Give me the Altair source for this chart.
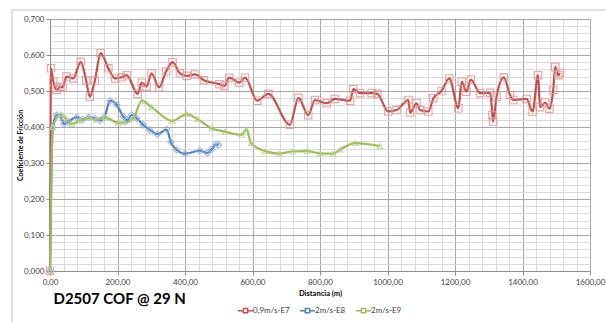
import altair as alt
import pandas as pd

# Sliding distance (m) and coefficient of friction for each test run
red_x = [0, 3, 10, 20, 30, 37, 49, 69, 91, 107, 118, 133, 150, 173, 193, 212, 227, 260, 272, 286,
         301, 323, 344, 363, 385, 405, 430, 456, 502, 517, 531, 561, 578, 614, 647, 711, 736, 765,
         785, 820, 844, 889, 899, 919, 953, 970, 1002, 1027, 1062, 1067, 1086, 1096, 1121, 1136,
         1160, 1183, 1210, 1220, 1234, 1247, 1274, 1304, 1311, 1313, 1323, 1345, 1363, 1373, 1412,
         1430, 1446, 1452, 1467, 1480, 1491, 1497, 1506, 1511]
red_y = [0.0, 0.563, 0.526, 0.503, 0.512, 0.51, 0.54, 0.535, 0.581, 0.53, 0.484, 0.529, 0.605, 0.563,
         0.535, 0.538, 0.544, 0.492, 0.523, 0.512, 0.549, 0.51, 0.554, 0.58, 0.549, 0.542, 0.546,
         0.53, 0.519, 0.514, 0.537, 0.523, 0.537, 0.473, 0.492, 0.406, 0.481, 0.433, 0.475, 0.466,
         0.478, 0.473, 0.505, 0.494, 0.494, 0.492, 0.443, 0.447, 0.475, 0.44, 0.466, 0.447, 0.443,
         0.48, 0.5, 0.535, 0.452, 0.526, 0.498, 0.532, 0.494, 0.495, 0.433, 0.415, 0.484, 0.538,
         0.489, 0.475, 0.478, 0.443, 0.544, 0.455, 0.468, 0.451, 0.503, 0.567, 0.544, 0.55]

blue_x = [0, 8, 20, 32, 41, 54, 79, 97, 114, 133, 148, 161, 178, 198, 217, 229, 242, 257, 276, 296,
          318, 346, 358, 375, 400, 444, 466, 479, 492, 500]
blue_y = [0.0, 0.40, 0.433, 0.429, 0.408, 0.415, 0.427, 0.421, 0.427, 0.424, 0.418, 0.427, 0.473,
          0.461, 0.429, 0.419, 0.433, 0.424, 0.406, 0.392, 0.38, 0.393, 0.358, 0.337, 0.326, 0.334,
          0.328, 0.338, 0.352, 0.35]

green_x = [0, 8, 32, 44, 64, 89, 114, 138, 163, 202, 217, 247, 272, 301, 363, 405, 437, 479, 519,
           568, 582, 596, 637, 679, 718, 761, 800, 839, 859, 904, 978]
green_y = [0.0, 0.40, 0.436, 0.427, 0.408, 0.418, 0.426, 0.421, 0.427, 0.412, 0.412, 0.424, 0.473,
           0.455, 0.417, 0.436, 0.422, 0.396, 0.387, 0.378, 0.393, 0.355, 0.333, 0.326, 0.332,
           0.333, 0.327, 0.326, 0.337, 0.355, 0.347]

series_names = ["0,9m/s-E7", "2m/s-E8", "2m/s-E9"]
line_colors = ["#C0504D", "#4F81BD", "#9BBB59"]
marker_colors = ["#E39594", "#8FB0DA", "#B9D38A"]

rows = []
for name, xs, ys in zip(series_names, [red_x, blue_x, green_x], [red_y, blue_y, green_y]):
    for i, (xv, yv) in enumerate(zip(xs, ys)):
        rows.append({"serie": name, "dist": xv, "cof": yv, "orden": i})
df = pd.DataFrame(rows)

FONT = "Lato"
TITLE_FONT = "Liberation Sans Narrow, Lato"
x_ticks = list(range(0, 1601, 40))
y_ticks = [round(i * 0.02, 2) for i in range(36)]
x_major = "datum.value % 200 == 0"
y_major = "round(datum.value * 100) % 10 == 0"

x_enc = alt.X(
    "dist:Q",
    scale=alt.Scale(domain=[0, 1600], nice=False),
    axis=alt.Axis(
        values=x_ticks,
        labelExpr=f"{x_major} ? replace(format(datum.value, '.2f'), '.', ',') : ''",
        title="Distancia  (m)",
        titleFontSize=7.5, titleFontWeight="bold", titleColor="#000000", titlePadding=3,
        labelFontSize=8, labelColor="#404040", labelPadding=3, labelFont=FONT, titleFont=FONT,
        tickSize=4,
        tickOpacity={"condition": {"test": x_major, "value": 1}, "value": 0},
        tickColor="#8c8c8c", domainColor="#8c8c8c",
        gridColor={"condition": {"test": x_major, "value": "#a6a6a6"}, "value": "#d9d9d9"},
        labelOverlap=False, labelBound=False, labelFlush=False,
    ),
)
y_enc = alt.Y(
    "cof:Q",
    scale=alt.Scale(domain=[0, 0.7], nice=False),
    axis=alt.Axis(
        values=y_ticks,
        labelExpr=f"{y_major} ? replace(format(datum.value, '.3f'), '.', ',') : ''",
        title="Coeficiente de Fricción",
        titleFontSize=7, titleFontWeight="bold", titleColor="#000000", titlePadding=0,
        labelFontSize=8, labelColor="#404040", labelPadding=2, labelFont=FONT, titleFont=FONT,
        tickSize=4,
        tickOpacity={"condition": {"test": y_major, "value": 1}, "value": 0},
        tickColor="#8c8c8c", domainColor="#8c8c8c",
        gridColor={"condition": {"test": y_major, "value": "#a6a6a6"}, "value": "#d9d9d9"},
        labelOverlap=False, labelBound=False, labelFlush=False,
    ),
)

legend_symbol = "M-1.6,0H-0.45M0.45,0H1.6M-0.45,-0.45H0.45V0.45H-0.45Z"

base = alt.Chart(df).encode(x=x_enc, y=y_enc)

lines = base.mark_line(interpolate="monotone", strokeWidth=2.2).encode(
    order="orden:Q",
    color=alt.Color(
        "serie:N",
        scale=alt.Scale(domain=series_names, range=line_colors),
        legend=alt.Legend(
            title=None, orient="none", direction="horizontal",
            legendX=190, legendY=286,
            symbolType=legend_symbol, symbolSize=90, symbolStrokeWidth=1.5,
            labelFontSize=8, labelFont=FONT, labelColor="#404040",
            columnPadding=6, labelOffset=2,
        ),
    ),
)

points = base.mark_point(filled=False, strokeWidth=1.1, opacity=0.85).encode(
    color=alt.Color("serie:N", scale=alt.Scale(domain=series_names, range=marker_colors), legend=None),
    shape=alt.Shape("serie:N", scale=alt.Scale(domain=series_names,
                                               range=["square", "diamond", "triangle-up"]),
                    legend=None),
    size=alt.Size("serie:N", scale=alt.Scale(domain=series_names, range=[55, 30, 40]), legend=None),
)

frame = alt.Chart(pd.DataFrame({"k": [0]})).mark_rect(
    fill="transparent", fillOpacity=0, stroke="#bfbfbf", strokeWidth=1
).encode(x=alt.value(-38), x2=alt.value(600), y=alt.value(-9), y2=alt.value(330))

chart = alt.layer(lines, points, frame).resolve_scale(
    color="independent", shape="independent", size="independent"
).properties(
    width=540,
    height=252,
    autosize=alt.AutoSizeParams(type="none"),
    padding={"left": 50, "top": 19, "right": 16, "bottom": 51},
    title=alt.TitleParams(
        "D2507 COF @ 29 N", orient="bottom", anchor="start", dx=42, dy=-20, offset=-38,
        fontSize=15, fontWeight="bold", font=TITLE_FONT, color="#000000",
    ),
).configure_view(stroke="#a6a6a6", strokeWidth=1).configure(background="#ffffff")

chart.save("out.html", embed_options={"renderer": "svg", "actions": False})
